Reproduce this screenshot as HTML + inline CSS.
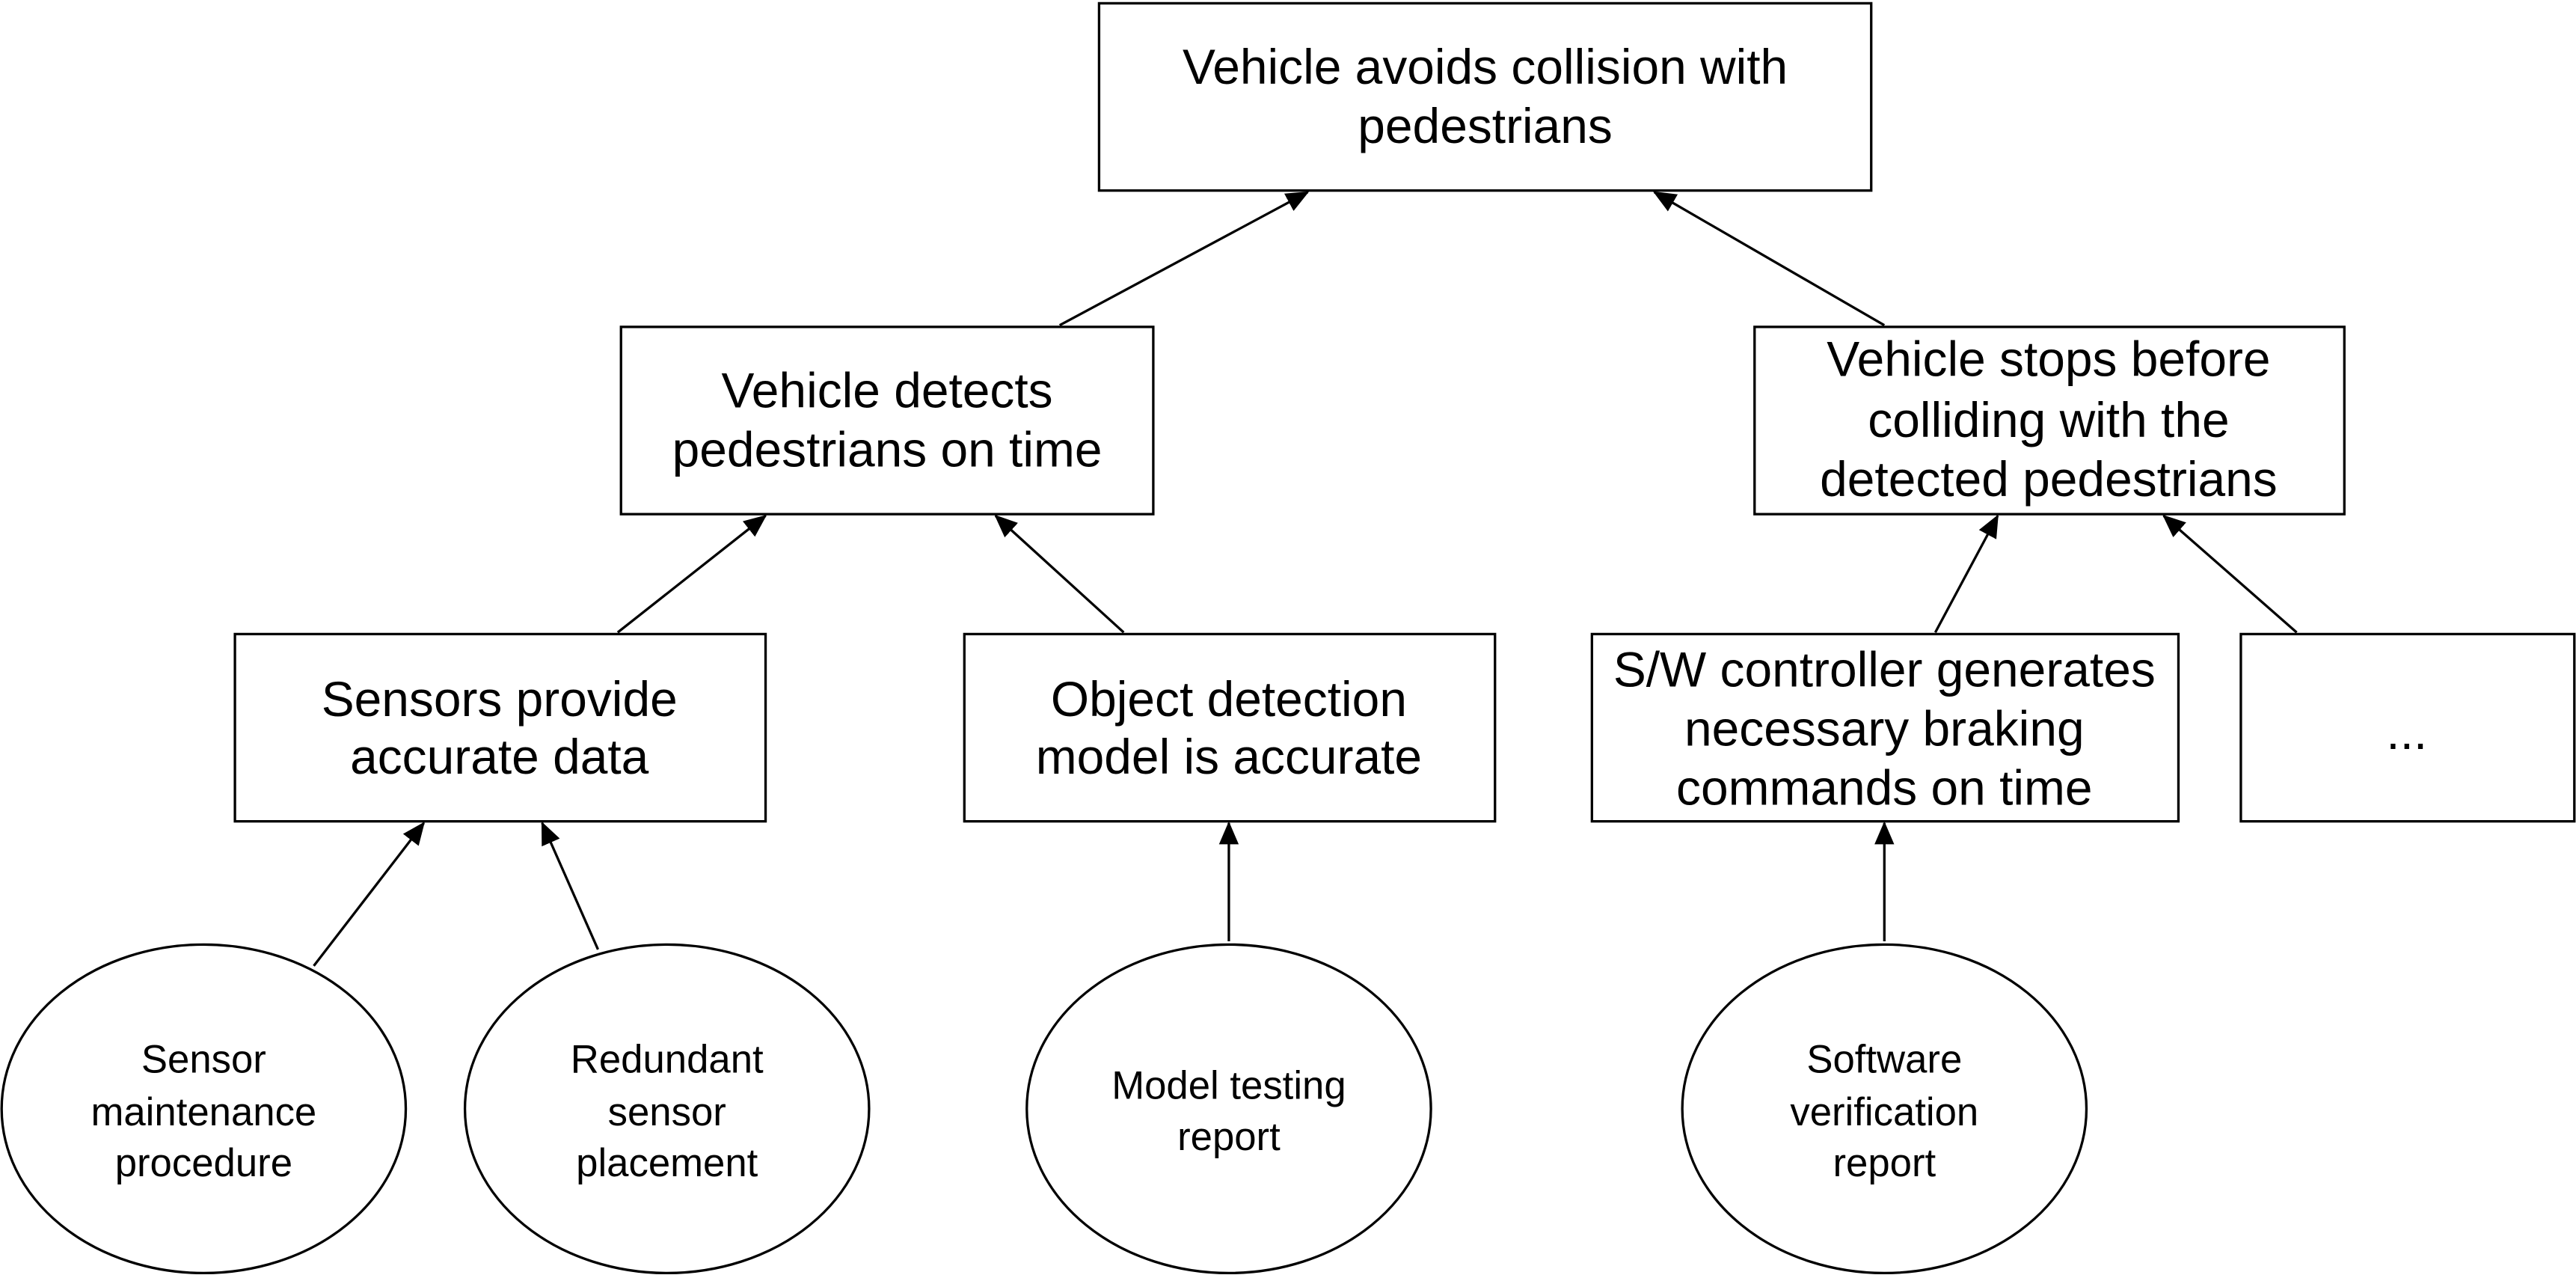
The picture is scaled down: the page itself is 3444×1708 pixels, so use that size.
<!DOCTYPE html>
<html><head><meta charset="utf-8"><style>
html,body{margin:0;padding:0;background:#fff;}
svg{display:block;}
text{font-family:"Liberation Sans",Arial,sans-serif;fill:#000;text-anchor:middle;}
.b{font-size:30px;}
.e{font-size:24px;}
</style></head><body>
<svg width="3444" height="1708" viewBox="0 0 1568 778" preserveAspectRatio="none" xmlns="http://www.w3.org/2000/svg">
<defs>
<marker id="m" markerWidth="14" markerHeight="14" refX="13" refY="7" orient="auto" markerUnits="userSpaceOnUse" viewBox="0 0 14 14"><path d="M0,1 L14,7 L0,13 z" fill="#000"/></marker></defs>
<g fill="none" stroke="#000" stroke-width="1.5">
<rect x="669" y="2" width="470" height="114"/>
<rect x="378" y="199" width="324" height="114"/>
<rect x="1068" y="199" width="359" height="114"/>
<rect x="143" y="386" width="323" height="114"/>
<rect x="587" y="386" width="323" height="114"/>
<rect x="969" y="386" width="357" height="114"/>
<rect x="1364" y="386" width="203" height="114"/>
<ellipse cx="124" cy="675" rx="123" ry="100"/>
<ellipse cx="406" cy="675" rx="123" ry="100"/>
<ellipse cx="748" cy="675" rx="123" ry="100"/>
<ellipse cx="1147" cy="675" rx="123" ry="100"/>
<g marker-end="url(#m)">
<line x1="645" y1="198" x2="796" y2="117"/>
<line x1="1147" y1="198" x2="1007" y2="117"/>
<line x1="376" y1="385" x2="466" y2="314"/>
<line x1="684" y1="385" x2="606" y2="314"/>
<line x1="1178" y1="385" x2="1216" y2="314"/>
<line x1="1398" y1="385" x2="1317" y2="314"/>
<line x1="191" y1="588" x2="258" y2="501"/>
<line x1="364" y1="578" x2="330" y2="501"/>
<line x1="748" y1="573" x2="748" y2="501"/>
<line x1="1147" y1="573" x2="1147" y2="501"/>
</g>
</g>
<text class="b" x="904" y="51">Vehicle avoids collision with</text>
<text class="b" x="904" y="87">pedestrians</text>
<text class="b" x="540" y="248">Vehicle detects</text>
<text class="b" x="540" y="284">pedestrians on time</text>
<text class="b" x="1247" y="229">Vehicle stops before</text>
<text class="b" x="1247" y="266">colliding with the</text>
<text class="b" x="1247" y="302">detected pedestrians</text>
<text class="b" x="304" y="436">Sensors provide</text>
<text class="b" x="304" y="471">accurate data</text>
<text class="b" x="748" y="436">Object detection</text>
<text class="b" x="748" y="471">model is accurate</text>
<text class="b" x="1147" y="418">S/W controller generates</text>
<text class="b" x="1147" y="454">necessary braking</text>
<text class="b" x="1147" y="490">commands on time</text>
<text class="b" x="1465" y="456">...</text>
<text class="e" x="124" y="653">Sensor</text>
<text class="e" x="124" y="685">maintenance</text>
<text class="e" x="124" y="716">procedure</text>
<text class="e" x="406" y="653">Redundant</text>
<text class="e" x="406" y="685">sensor</text>
<text class="e" x="406" y="716">placement</text>
<text class="e" x="748" y="669">Model testing</text>
<text class="e" x="748" y="700">report</text>
<text class="e" x="1147" y="653">Software</text>
<text class="e" x="1147" y="685">verification</text>
<text class="e" x="1147" y="716">report</text>
</svg>
</body></html>
